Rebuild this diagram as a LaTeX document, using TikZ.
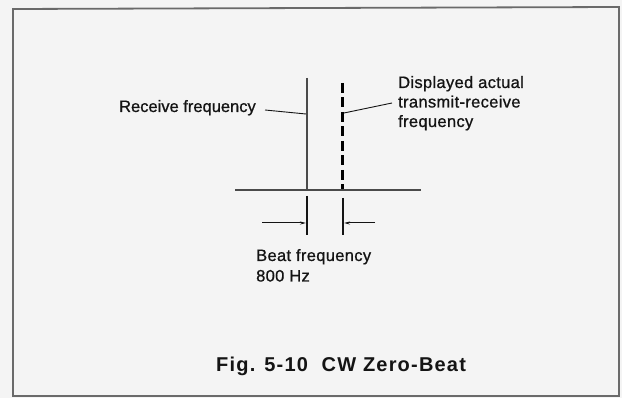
\documentclass[tikz,border=0pt]{standalone}
\usepackage{fontspec}
\setmainfont{Liberation Sans}
\usetikzlibrary{arrows.meta}
\definecolor{bg}{HTML}{F4F4F4}
\definecolor{frame}{HTML}{6A6A6A}
\definecolor{ink}{HTML}{141414}
\definecolor{gline}{HTML}{4A4A4A}
\tikzset{
  lbl/.style={inner sep=0pt, text=ink, font=\fontsize{16.5}{19.5}\selectfont\addfontfeatures{FakeBold=0.8,LetterSpace=2}},
  caption/.style={inner sep=0pt, text=ink, font=\fontsize{20}{22}\selectfont\bfseries\addfontfeatures{LetterSpace=6}},
  leader/.style={draw=ink, line width=0.9pt},
  tick/.style={draw=ink, line width=1.3pt},
  dim/.style={draw=ink, line width=1pt, -{Stealth[length=6pt,width=3pt]}},
}
\begin{document}
\begin{tikzpicture}[x=1pt,y=-1pt]
\useasboundingbox (0,0) rectangle (622,398);
\fill[bg] (0,0) rectangle (622,398);
\draw[frame, line width=1.8pt] (13,9) -- (619,7) -- (619,396) -- (13,396) -- cycle;
% baseline
\coordinate (bl) at (235,190);
\coordinate (br) at (421,190);
\draw[gline, line width=2.6pt] (bl) -- (br);
% receive frequency line
\coordinate (rtop) at (307,78);
\coordinate (rbot) at (307,190);
\draw[gline, line width=2pt] (rtop) -- (rbot);
% displayed dashed line
\coordinate (dtop) at (342.5,83);
\coordinate (dbot) at (342.5,189);
\draw[black, line width=3pt, dash pattern=on 10pt off 4.5pt] (dtop) -- (dbot);
% ticks
\coordinate (t1a) at (307,196); \coordinate (t1b) at (307,235);
\coordinate (t2a) at (343,198); \coordinate (t2b) at (343,235);
\draw[tick] (t1a) -- (t1b);
\draw[tick] (t2a) -- (t2b);
% dimension arrows
\coordinate (d1s) at (262,223); \coordinate (d1e) at (306,223);
\coordinate (d2s) at (375,223); \coordinate (d2e) at (344,223);
\draw[dim] (d1s) -- (d1e);
\draw[dim] (d2s) -- (d2e);
% labels
\node[lbl, anchor=base east, font=\fontsize{16.5}{19.5}\selectfont\addfontfeatures{FakeBold=0.8}] (recv) at (256,112) {Receive frequency};
\coordinate (rl) at (265,110);
\coordinate (recvtip) at (306,114);
\draw[leader] (rl) -- (recvtip);
\node[lbl, anchor=base west, align=left] (disp) at (398,127) {Displayed actual\\transmit-receive\\frequency};
\coordinate (dispfrom) at (392,103);
\coordinate (disptip) at (344,113);
\draw[leader] (dispfrom) -- (disptip);
\node[lbl, anchor=base west, align=left, font=\fontsize{16.5}{20.5}\selectfont\addfontfeatures{FakeBold=0.8,LetterSpace=2}] (beat) at (256,281.5) {Beat frequency\\800 Hz};
\node[caption, anchor=base west] (cap) at (216,372) {Fig. 5-10\hspace{0.35em} CW Zero-Beat};
\end{tikzpicture}
\end{document}
